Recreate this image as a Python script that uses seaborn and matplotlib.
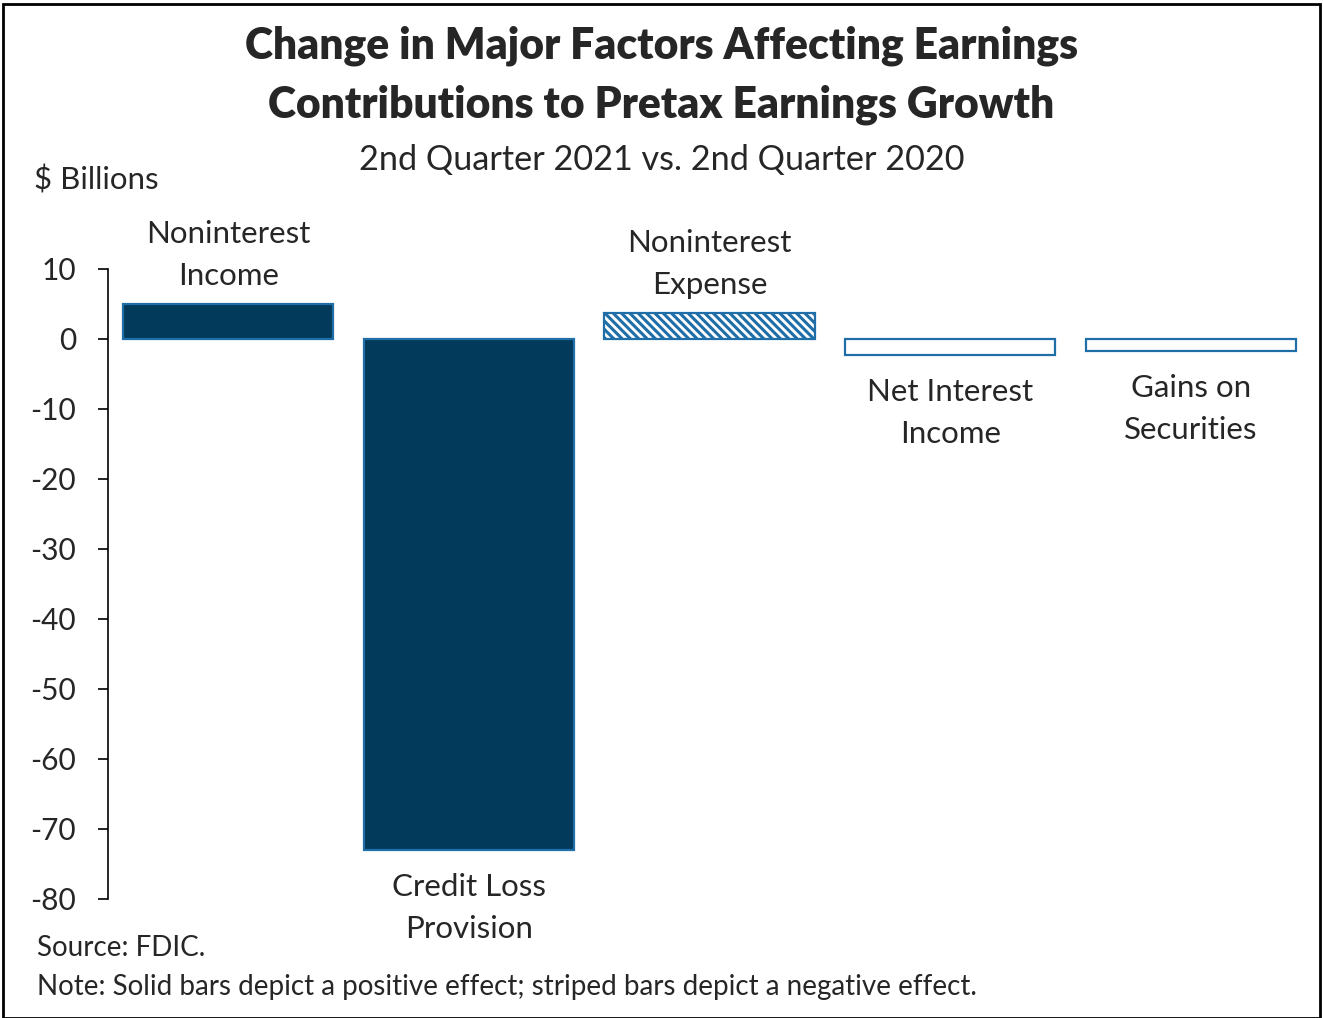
import seaborn as sns
import matplotlib.pyplot as plt
from matplotlib.patches import Rectangle

# 데이터
categories = ["Noninterest Income", "Credit Loss Provision", "Noninterest Expense",
              "Net Interest Income", "Gains on Securities"]
bar_labels = ["Noninterest\nIncome", "Credit Loss\nProvision", "Noninterest\nExpense",
              "Net Interest\nIncome", "Gains on\nSecurities"]
values = [5.0, -73.0, 3.7, -2.3, -1.7]
y_ticks = [10, 0, -10, -20, -30, -40, -50, -60, -70, -80]

NAVY = "#023a5c"
BLUE = "#1f6ea8"

sns.set_style("white")
plt.rcParams["font.family"] = ["Lato", "DejaVu Sans"]
plt.rcParams["axes.unicode_minus"] = False
plt.rcParams["hatch.color"] = BLUE
plt.rcParams["hatch.linewidth"] = 2.2

fig = plt.figure(figsize=(13.23, 10.18), dpi=100)
ax = fig.add_axes([0.0816, 0.1169, 0.9094, 0.6189])

sns.barplot(x=categories, y=values, hue=categories, legend=False,
            palette=[NAVY, NAVY, "white", "white", "white"],
            width=0.873, saturation=1, ax=ax)

for i, patch in enumerate(ax.patches):
    patch.set_edgecolor(BLUE)
    patch.set_linewidth(1.6)
    if i == 2:
        patch.set_hatch("\\\\\\\\")

# 막대 라벨
for i, (v, lab) in enumerate(zip(values, bar_labels)):
    if v >= 0:
        ax.text(i, v + 2.0, lab, ha="center", va="bottom", fontsize=22.5,
                linespacing=1.62)
    else:
        ax.text(i, v - 3.3, lab, ha="center", va="top", fontsize=22.5,
                linespacing=1.62)

ax.set_xlim(-0.5, 4.5)
ax.set_ylim(-80, 10)
ax.set_yticks(y_ticks)
ax.set_yticklabels([str(t) for t in y_ticks], fontsize=21.5)
ax.set_xticks([])
ax.set_xlabel("")
ax.set_ylabel("")
ax.tick_params(axis="y", direction="out", length=7, width=1.2, color="black",
               pad=16, left=True)
for s in ["top", "right", "bottom"]:
    ax.spines[s].set_visible(False)
ax.spines["left"].set_color("black")
ax.spines["left"].set_linewidth(1.2)

# 제목
fig.text(0.5, 0.955, "Change in Major Factors Affecting Earnings", ha="center",
         va="center", fontsize=30.7, fontweight="heavy")
fig.text(0.5, 0.897, "Contributions to Pretax Earnings Growth", ha="center",
         va="center", fontsize=30.7, fontweight="heavy")
fig.text(0.5, 0.843, "2nd Quarter 2021 vs. 2nd Quarter 2020", ha="center",
         va="center", fontsize=24.7)
fig.text(0.026, 0.823, "$ Billions", ha="left", va="center", fontsize=22.5)
fig.text(0.028, 0.069, "Source: FDIC.", ha="left", va="center", fontsize=20)
fig.text(0.028, 0.030, "Note: Solid bars depict a positive effect; striped bars depict a negative effect.",
         ha="left", va="center", fontsize=20)

# 테두리
fig.patches.append(Rectangle((0.002, 0.0), 0.996, 0.996, transform=fig.transFigure,
                             fill=False, edgecolor="black", linewidth=2))

fig.savefig("out.png", dpi=100)
